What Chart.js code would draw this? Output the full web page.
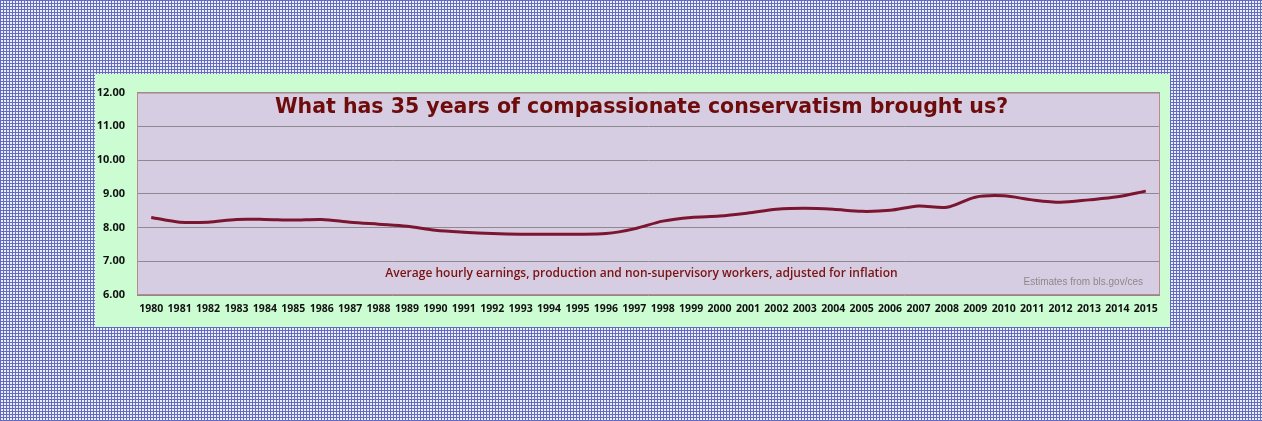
<!DOCTYPE html>
<html>
<head>
<meta charset="utf-8">
<script src="https://cdn.jsdelivr.net/npm/chart.js@4"></script>
<style>
  html, body { margin: 0; padding: 0; width: 1262px; height: 421px; overflow: hidden; }
  body {
    background-color: #eceef9;
    background-image:
      repeating-linear-gradient(0deg, #626cc0 0 1px, transparent 1px 3px),
      repeating-linear-gradient(90deg, #626cc0 0 1px, transparent 1px 3px);
  }
  #panel { position: absolute; left: 95px; top: 74px; width: 1075px; height: 253px; background: #ccfcd2; }
  canvas { display: block; }
</style>
</head>
<body>
<div id="panel"><canvas id="c" width="1075" height="253"></canvas></div>
<script>
const years = ['1980','1981','1982','1983','1984','1985','1986','1987','1988','1989','1990','1991','1992','1993','1994','1995','1996','1997','1998','1999','2000','2001','2002','2003','2004','2005','2006','2007','2008','2009','2010','2011','2012','2013','2014','2015'];
const hourlyEarnings = [8.30, 8.16, 8.16, 8.24, 8.24, 8.22, 8.24, 8.16, 8.10, 8.04, 7.92, 7.86, 7.82, 7.80, 7.80, 7.80, 7.82, 7.96, 8.19, 8.30, 8.34, 8.43, 8.54, 8.57, 8.54, 8.48, 8.51, 8.64, 8.60, 8.90, 8.94, 8.82, 8.75, 8.82, 8.91, 9.08];
const yTicks = [6, 7, 8, 9, 10, 11, 12];
const titleText = 'What has 35 years of compassionate conservatism brought us?';
const noteText = 'Average hourly earnings, production and non-supervisory workers, adjusted for inflation';
const sourceText = 'Estimates from bls.gov/ces';

const plotBg = {
  id: 'plotBg',
  beforeDraw(chart) {
    const {ctx, chartArea: a} = chart;
    ctx.save();
    ctx.fillStyle = '#d6cde2';
    ctx.fillRect(a.left, a.top, a.right - a.left, a.bottom - a.top);
    ctx.restore();
  },
  afterDatasetsDraw(chart) {
    const {ctx, chartArea: a} = chart;
    ctx.save();
    ctx.strokeStyle = '#b88a8e';
    ctx.lineWidth = 1;
    ctx.strokeRect(a.left + 0.5, a.top + 0.5, a.right - a.left - 1, a.bottom - a.top - 1);
    const cx = (a.left + a.right) / 2 - 7;
    ctx.fillStyle = '#6e0b0b';
    ctx.textAlign = 'center';
    ctx.textBaseline = 'middle';
    ctx.font = 'bold 20.5px "DejaVu Sans", sans-serif';
    ctx.fillText(titleText, cx, 34);
    ctx.fillStyle = '#7a1212';
    ctx.font = '600 12px "Open Sans", sans-serif';
    ctx.fillText(noteText, cx, 200);
    ctx.fillStyle = '#8a8a8a';
    ctx.textAlign = 'right';
    ctx.font = '10px "Liberation Sans", sans-serif';
    ctx.fillText(sourceText, a.right - 17, 208);
    ctx.restore();
  }
};

new Chart(document.getElementById('c'), {
  type: 'line',
  data: {
    labels: years,
    datasets: [{
      data: hourlyEarnings,
      borderColor: '#7c1530',
      borderWidth: 3,
      pointRadius: 0,
      tension: 0.3,
      fill: false
    }]
  },
  options: {
    responsive: false,
    animation: false,
    devicePixelRatio: 1,
    layout: { padding: { left: 0, right: 10, top: 18, bottom: 0 } },
    plugins: { legend: { display: false }, tooltip: { enabled: false } },
    scales: {
      x: {
        type: 'category',
        offset: true,
        grid: { display: false, drawTicks: false },
        border: { display: false },
        ticks: {
          color: '#111',
          font: { family: '"Open Sans", sans-serif', weight: 'bold', size: 10.5 },
          padding: 8,
          maxRotation: 0,
          autoSkip: false
        },
        afterFit(s) { s.height = 32; }
      },
      y: {
        min: 6, max: 12,
        afterBuildTicks(s) { s.ticks = yTicks.map(v => ({ value: v })); },
        grid: { color: '#8e8890', lineWidth: 1, drawTicks: false },
        border: { display: false },
        ticks: {
          color: '#111',
          font: { family: '"Open Sans", sans-serif', weight: 'bold', size: 11 },
          padding: 12,
          callback: v => Number(v).toFixed(2)
        },
        afterFit(s) { s.width = 42; }
      }
    }
  },
  plugins: [plotBg]
});
</script>
</body>
</html>
